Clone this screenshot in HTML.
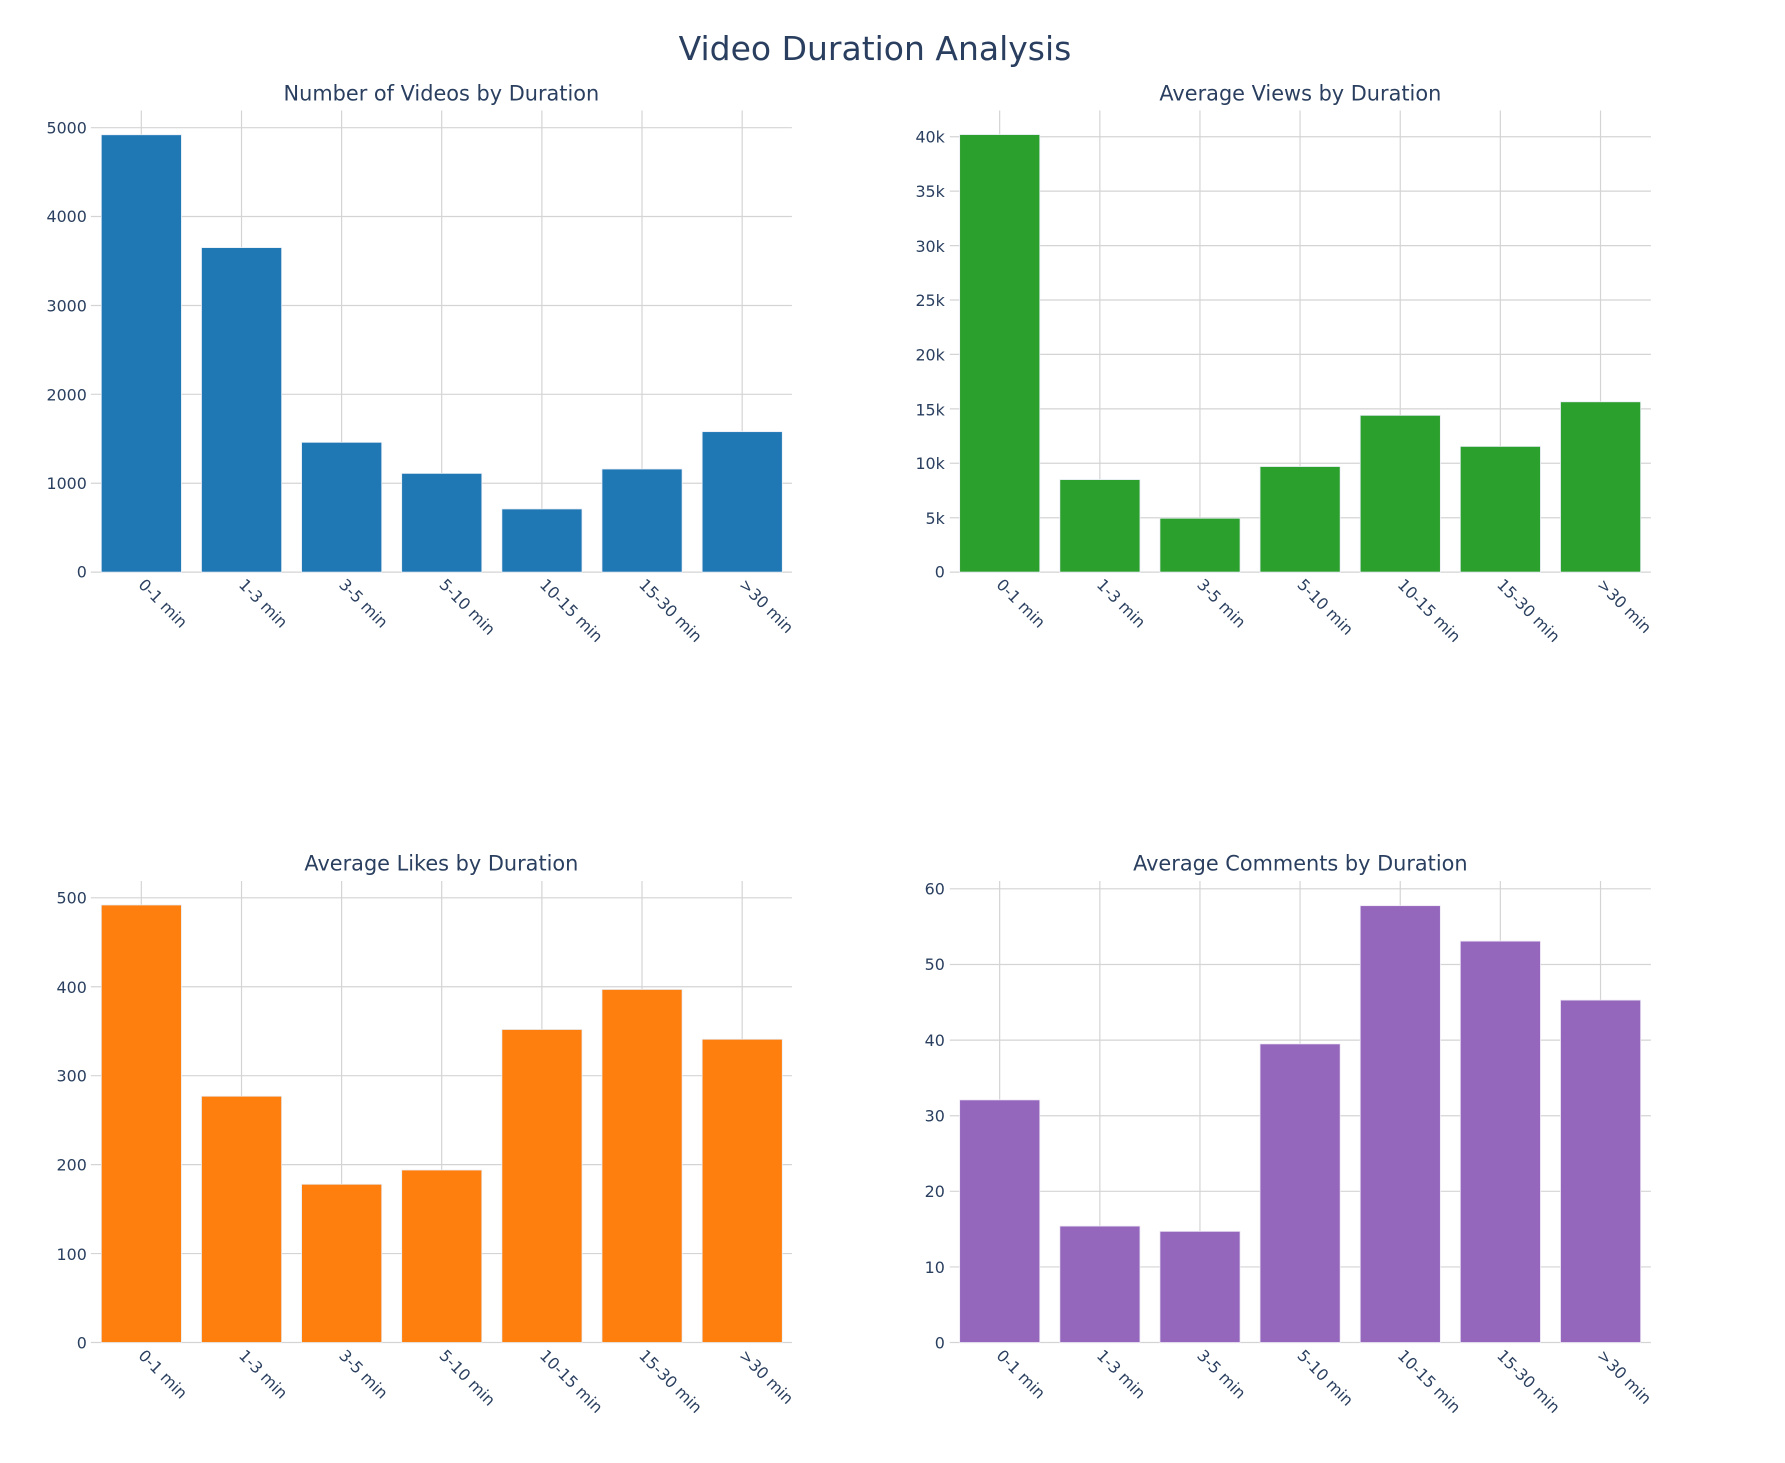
<!DOCTYPE html>
<html><head><meta charset="utf-8"><style>
body{margin:0;background:#fff}
svg text{font-family:"DejaVu Sans","Liberation Sans",sans-serif;fill:#2a3f5f}
.g{stroke:#d4d4d4;stroke-width:1.2}
.t{font-size:16px}
.y{font-size:16px;text-anchor:end}
.st{font-size:21px;text-anchor:middle}
</style></head><body>
<svg width="1785" height="1458" xmlns="http://www.w3.org/2000/svg">
<rect width="1785" height="1458" fill="#fff"/>
<text x="875" y="60" style="font-size:33px;text-anchor:middle">Video Duration Analysis</text>
<g transform="translate(1.5,0) scale(0.993,0.996)">
<!-- TL -->
<text class="st" x="443" y="101">Number of Videos by Duration</text>
<g class="g">
<line x1="90" x2="796" y1="574.4" y2="574.4"/><line x1="90" x2="796" y1="485.2" y2="485.2"/><line x1="90" x2="796" y1="395.9" y2="395.9"/><line x1="90" x2="796" y1="306.7" y2="306.7"/><line x1="90" x2="796" y1="217.4" y2="217.4"/><line x1="90" x2="796" y1="128.2" y2="128.2"/>
<line x1="140.8" x2="140.8" y1="111" y2="574"/><line x1="241.7" x2="241.7" y1="111" y2="574"/><line x1="342.5" x2="342.5" y1="111" y2="574"/><line x1="443.3" x2="443.3" y1="111" y2="574"/><line x1="544.2" x2="544.2" y1="111" y2="574"/><line x1="645" x2="645" y1="111" y2="574"/><line x1="745.9" x2="745.9" y1="111" y2="574"/>
</g>
<g fill="#1f77b4" stroke="#e8eef6" stroke-width="0.8">
<rect x="100.5" width="80.7" y="135.3" height="439.1"/><rect x="201.4" width="80.7" y="248.6" height="325.8"/><rect x="302.2" width="80.7" y="444.1" height="130.3"/><rect x="403" width="80.7" y="475.3" height="99.1"/><rect x="503.9" width="80.7" y="511" height="63.4"/><rect x="604.7" width="80.7" y="470.9" height="103.5"/><rect x="705.6" width="80.7" y="433.4" height="141"/>
</g>
<g class="y"><text x="86" y="580">0</text><text x="86" y="491">1000</text><text x="86" y="402">2000</text><text x="86" y="313">3000</text><text x="86" y="223">4000</text><text x="86" y="134">5000</text></g>
<g class="t">
<text transform="translate(137,588) rotate(45)">0-1 min</text><text transform="translate(238,588) rotate(45)">1-3 min</text><text transform="translate(339,588) rotate(45)">3-5 min</text><text transform="translate(440,588) rotate(45)">5-10 min</text><text transform="translate(541,588) rotate(45)">10-15 min</text><text transform="translate(641,588) rotate(45)">15-30 min</text><text transform="translate(742,588) rotate(45)">&gt;30 min</text>
</g>

<g transform="translate(4,0)">
<!-- TR -->
<text class="st" x="1304" y="101">Average Views by Duration</text>
<g class="g">
<line x1="951" x2="1657" y1="574.4" y2="574.4"/><line x1="951" x2="1657" y1="519.8" y2="519.8"/><line x1="951" x2="1657" y1="465.1" y2="465.1"/><line x1="951" x2="1657" y1="410.5" y2="410.5"/><line x1="951" x2="1657" y1="355.8" y2="355.8"/><line x1="951" x2="1657" y1="301.2" y2="301.2"/><line x1="951" x2="1657" y1="246.6" y2="246.6"/><line x1="951" x2="1657" y1="191.9" y2="191.9"/><line x1="951" x2="1657" y1="137.3" y2="137.3"/>
<line x1="1001.2" x2="1001.2" y1="111" y2="574"/><line x1="1102.1" x2="1102.1" y1="111" y2="574"/><line x1="1202.9" x2="1202.9" y1="111" y2="574"/><line x1="1303.7" x2="1303.7" y1="111" y2="574"/><line x1="1404.6" x2="1404.6" y1="111" y2="574"/><line x1="1505.4" x2="1505.4" y1="111" y2="574"/><line x1="1606.3" x2="1606.3" y1="111" y2="574"/>
</g>
<g fill="#2ca02c" stroke="#e8eef6" stroke-width="0.8">
<rect x="960.9" width="80.7" y="135.1" height="439.3"/><rect x="1061.8" width="80.7" y="481.5" height="92.9"/><rect x="1162.6" width="80.7" y="520.3" height="54.1"/><rect x="1263.4" width="80.7" y="468.4" height="106"/><rect x="1364.3" width="80.7" y="417" height="157.4"/><rect x="1465.1" width="80.7" y="448.2" height="126.2"/><rect x="1566" width="80.7" y="403.4" height="171"/>
</g>
<g class="y"><text x="946" y="580">0</text><text x="946" y="526">5k</text><text x="946" y="471">10k</text><text x="946" y="417">15k</text><text x="946" y="362">20k</text><text x="946" y="307">25k</text><text x="946" y="253">30k</text><text x="946" y="198">35k</text><text x="946" y="143">40k</text></g>
<g class="t">
<text transform="translate(997,588) rotate(45)">0-1 min</text><text transform="translate(1098,588) rotate(45)">1-3 min</text><text transform="translate(1199,588) rotate(45)">3-5 min</text><text transform="translate(1300,588) rotate(45)">5-10 min</text><text transform="translate(1401,588) rotate(45)">10-15 min</text><text transform="translate(1501,588) rotate(45)">15-30 min</text><text transform="translate(1602,588) rotate(45)">&gt;30 min</text>
</g>
</g>

<!-- BL -->
<text class="st" x="443" y="874">Average Likes by Duration</text>
<g class="g">
<line x1="90" x2="796" y1="1347.9" y2="1347.9"/><line x1="90" x2="796" y1="1258.6" y2="1258.6"/><line x1="90" x2="796" y1="1169.3" y2="1169.3"/><line x1="90" x2="796" y1="1080" y2="1080"/><line x1="90" x2="796" y1="990.7" y2="990.7"/><line x1="90" x2="796" y1="901.4" y2="901.4"/>
<line x1="140.8" x2="140.8" y1="884.5" y2="1348"/><line x1="241.7" x2="241.7" y1="884.5" y2="1348"/><line x1="342.5" x2="342.5" y1="884.5" y2="1348"/><line x1="443.3" x2="443.3" y1="884.5" y2="1348"/><line x1="544.2" x2="544.2" y1="884.5" y2="1348"/><line x1="645" x2="645" y1="884.5" y2="1348"/><line x1="745.9" x2="745.9" y1="884.5" y2="1348"/>
</g>
<g fill="#ff7f0e" stroke="#e8eef6" stroke-width="0.8">
<rect x="100.5" width="80.7" y="908.6" height="439.3"/><rect x="201.4" width="80.7" y="1100.6" height="247.3"/><rect x="302.2" width="80.7" y="1189" height="158.9"/><rect x="403" width="80.7" y="1174.7" height="173.2"/><rect x="503.9" width="80.7" y="1033.6" height="314.3"/><rect x="604.7" width="80.7" y="993.4" height="354.5"/><rect x="705.6" width="80.7" y="1043.4" height="304.5"/>
</g>
<g class="y"><text x="86" y="1354">0</text><text x="86" y="1265">100</text><text x="86" y="1175">200</text><text x="86" y="1086">300</text><text x="86" y="997">400</text><text x="86" y="907">500</text></g>
<g class="t">
<text transform="translate(137,1362) rotate(45)">0-1 min</text><text transform="translate(238,1362) rotate(45)">1-3 min</text><text transform="translate(339,1362) rotate(45)">3-5 min</text><text transform="translate(440,1362) rotate(45)">5-10 min</text><text transform="translate(541,1362) rotate(45)">10-15 min</text><text transform="translate(641,1362) rotate(45)">15-30 min</text><text transform="translate(742,1362) rotate(45)">&gt;30 min</text>
</g>

<g transform="translate(4,0)">
<!-- BR -->
<text class="st" x="1304" y="874">Average Comments by Duration</text>
<g class="g">
<line x1="951" x2="1657" y1="1347.9" y2="1347.9"/><line x1="951" x2="1657" y1="1272" y2="1272"/><line x1="951" x2="1657" y1="1196.1" y2="1196.1"/><line x1="951" x2="1657" y1="1120.2" y2="1120.2"/><line x1="951" x2="1657" y1="1044.3" y2="1044.3"/><line x1="951" x2="1657" y1="968.4" y2="968.4"/><line x1="951" x2="1657" y1="892.4" y2="892.4"/>
<line x1="1001.2" x2="1001.2" y1="884.5" y2="1348"/><line x1="1102.1" x2="1102.1" y1="884.5" y2="1348"/><line x1="1202.9" x2="1202.9" y1="884.5" y2="1348"/><line x1="1303.7" x2="1303.7" y1="884.5" y2="1348"/><line x1="1404.6" x2="1404.6" y1="884.5" y2="1348"/><line x1="1505.4" x2="1505.4" y1="884.5" y2="1348"/><line x1="1606.3" x2="1606.3" y1="884.5" y2="1348"/>
</g>
<g fill="#9467bd" stroke="#efe8f6" stroke-width="0.8">
<rect x="960.9" width="80.7" y="1104.3" height="243.6"/><rect x="1061.8" width="80.7" y="1231" height="116.9"/><rect x="1162.6" width="80.7" y="1236.3" height="111.6"/><rect x="1263.4" width="80.7" y="1048.1" height="299.8"/><rect x="1364.3" width="80.7" y="909.3" height="438.6"/><rect x="1465.1" width="80.7" y="944.9" height="403"/><rect x="1566" width="80.7" y="1004.1" height="343.8"/>
</g>
<g class="y"><text x="946" y="1354">0</text><text x="946" y="1278">10</text><text x="946" y="1202">20</text><text x="946" y="1126">30</text><text x="946" y="1050">40</text><text x="946" y="974">50</text><text x="946" y="898">60</text></g>
<g class="t">
<text transform="translate(997,1362) rotate(45)">0-1 min</text><text transform="translate(1098,1362) rotate(45)">1-3 min</text><text transform="translate(1199,1362) rotate(45)">3-5 min</text><text transform="translate(1300,1362) rotate(45)">5-10 min</text><text transform="translate(1401,1362) rotate(45)">10-15 min</text><text transform="translate(1501,1362) rotate(45)">15-30 min</text><text transform="translate(1602,1362) rotate(45)">&gt;30 min</text>
</g>
</g>
</g>
</svg>
</body></html>
